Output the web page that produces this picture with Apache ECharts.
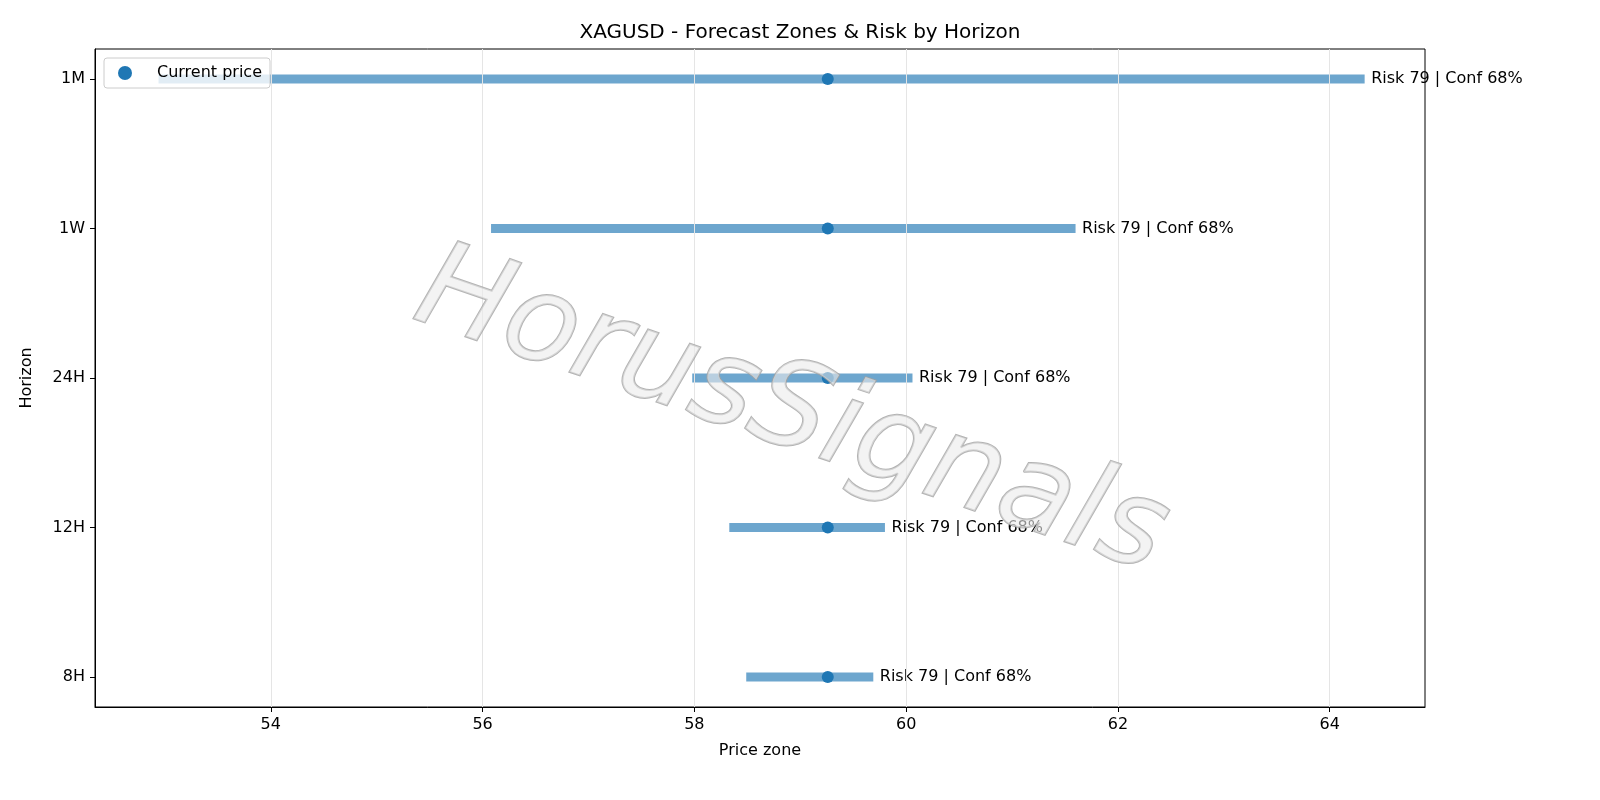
<!DOCTYPE html>
<html>
<head>
<meta charset="utf-8">
<script src="https://cdn.jsdelivr.net/npm/echarts@6/dist/echarts.min.js"></script>
<style>html,body{margin:0;padding:0;background:#fff}#c{width:1600px;height:800px}</style>
</head>
<body>
<div id="c"></div>
<script>
// horizons from bottom to top
const horizontes = ["8H", "12H", "24H", "1W", "1M"];
const zonaBaja = [58.49, 58.33, 57.98, 56.08, 52.94];
const zonaAlta = [59.69, 59.80, 60.06, 61.60, 64.33];
const precioActual = [59.26, 59.26, 59.26, 59.26, 59.26];
const etiquetas = ["Risk 79 | Conf 68%", "Risk 79 | Conf 68%", "Risk 79 | Conf 68%", "Risk 79 | Conf 68%", "Risk 79 | Conf 68%"];
const ticksX = [54, 56, 58, 60, 62, 64];

const fuente = "DejaVu Sans";
const grafico = echarts.init(document.getElementById("c"));

const yIdx = horizontes.map((h, i) => i);

grafico.setOption({
    animation: false,
    textStyle: { fontFamily: fuente },
    title: {
        text: "XAGUSD - Forecast Zones & Risk by Horizon",
        left: "center", top: 18,
        textStyle: { fontFamily: fuente, fontSize: 20, fontWeight: "normal", color: "#000" }
    },
    grid: { left: 95, right: 175, top: 49, bottom: 93, show: true, borderColor: "#000", borderWidth: 1 },
    legend: {
        left: 104, top: 58, orient: "vertical",
        backgroundColor: "rgba(255,255,255,0.8)", borderColor: "#ccc", borderWidth: 1, borderRadius: 3,
        padding: [7, 8, 7, 14], itemWidth: 14, itemHeight: 14,
        textStyle: { fontFamily: fuente, fontSize: 16, color: "#000", padding: [0, 0, 0, 20] },
        data: [{ name: "Current price", icon: "circle" }]
    },
    xAxis: {
        type: "value", min: 52.34, max: 64.9,
        name: "Price zone", nameLocation: "middle", nameGap: 36,
        nameTextStyle: { fontFamily: fuente, fontSize: 16, color: "#000" },
        axisLine: { onZero: false, lineStyle: { color: "#000" } },
        axisTick: { customValues: ticksX, length: 5, lineStyle: { color: "#000" } },
        axisLabel: { customValues: ticksX, fontFamily: fuente, fontSize: 16, color: "#000", margin: 10 },
        splitLine: { show: false }
    },
    yAxis: {
        type: "value", min: -0.2, max: 4.2,
        name: "Horizon", nameLocation: "middle", nameGap: 60,
        nameTextStyle: { fontFamily: fuente, fontSize: 16, color: "#000" },
        axisLine: { onZero: false, lineStyle: { color: "#000" } },
        axisTick: { customValues: yIdx, length: 5, lineStyle: { color: "#000" } },
        axisLabel: { customValues: yIdx, fontFamily: fuente, fontSize: 16, color: "#000", margin: 10,
            formatter: v => horizontes[Math.round(v)] },
        splitLine: { show: false }
    },
    graphic: [{
        type: "text", left: 400, top: 230, z: 100, silent: true,
        rotation: -0.33, originX: 0, originY: 0,
        style: {
            text: "HorusSignals", fontFamily: fuente, fontSize: 120, fontStyle: "italic",
            fill: "rgba(235,235,235,0.6)", stroke: "rgba(160,160,160,0.8)", lineWidth: 2,
            shadowColor: "rgba(130,130,130,0.6)", shadowBlur: 3, shadowOffsetX: 5, shadowOffsetY: 6
        }
    }],
    series: [
        {
            name: "zone", type: "custom", z: 2,
            renderItem: (params, api) => {
                const a = api.coord([api.value(0), api.value(2)]);
                const b = api.coord([api.value(1), api.value(2)]);
                return {
                    type: "line",
                    shape: { x1: a[0], y1: a[1], x2: b[0], y2: b[1] },
                    style: { stroke: "rgba(31,119,180,0.65)", lineWidth: 9 }
                };
            },
            encode: { x: [0, 1], y: 2 },
            data: yIdx.map(i => [zonaBaja[i], zonaAlta[i], i]),
            markLine: {
                silent: true, symbol: "none", label: { show: false },
                lineStyle: { color: "#e5e5e5", width: 1, type: "solid" },
                data: ticksX.map(v => ({ xAxis: v }))
            }
        },
        {
            name: "labels", type: "scatter", symbolSize: 1, z: 3,
            itemStyle: { color: "transparent", opacity: 1 },
            data: yIdx.map(i => [zonaAlta[i], i]),
            label: {
                show: true, position: "right", distance: 6, opacity: 1,
                fontFamily: fuente, fontSize: 16, color: "#000",
                formatter: p => etiquetas[p.dataIndex]
            }
        },
        {
            name: "Current price", type: "scatter", symbol: "circle", symbolSize: 12, z: 4,
            itemStyle: { color: "#1f77b4", opacity: 1 },
            data: yIdx.map(i => [precioActual[i], i])
        }
    ]
});
</script>
</body>
</html>
